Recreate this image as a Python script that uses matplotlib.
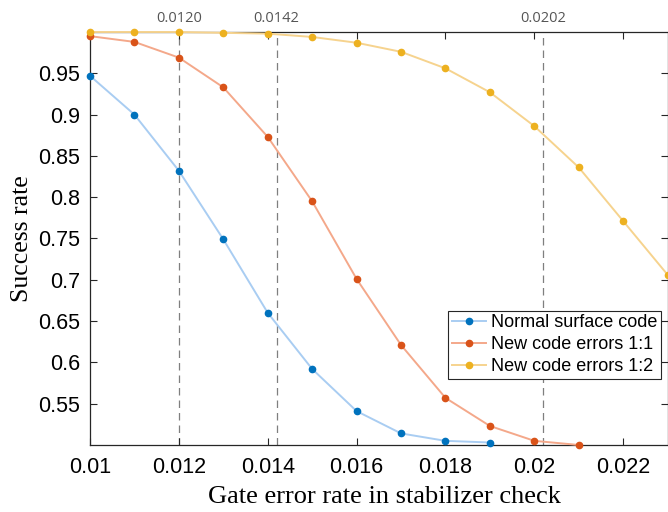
import matplotlib.pyplot as plt
from matplotlib.transforms import blended_transform_factory

# 门错误率（横轴）
x_normal = [0.010, 0.011, 0.012, 0.013, 0.014, 0.015, 0.016, 0.017, 0.018, 0.019]
x_new11 = [0.010, 0.011, 0.012, 0.013, 0.014, 0.015, 0.016, 0.017, 0.018, 0.019, 0.020, 0.021]
x_new12 = [0.010, 0.011, 0.012, 0.013, 0.014, 0.015, 0.016, 0.017, 0.018, 0.019, 0.020, 0.021, 0.022, 0.023]

# 成功率
y_normal = [0.947, 0.900, 0.832, 0.749, 0.660, 0.592, 0.541, 0.514, 0.505, 0.503]
y_new11 = [0.995, 0.988, 0.969, 0.933, 0.873, 0.795, 0.701, 0.621, 0.557, 0.523, 0.505, 0.500]
y_new12 = [1.000, 1.000, 1.000, 0.999, 0.998, 0.994, 0.987, 0.976, 0.956, 0.927, 0.886, 0.836, 0.771, 0.706]

labels = ['Normal surface code', 'New code errors 1:1', 'New code errors 1:2']
dot_colors = ['#0072BD', '#D95319', '#EDB120']
line_colors = ['#A9CDF2', '#F4A88A', '#F6D38E']

# 阈值竖线
thresholds = [0.0120, 0.0142, 0.0202]
threshold_text = ['0.0120', '0.0142', '0.0202']

xticks = [0.010, 0.012, 0.014, 0.016, 0.018, 0.020, 0.022]
xtick_text = ['0.01', '0.012', '0.014', '0.016', '0.018', '0.02', '0.022']
yticks = [0.55, 0.60, 0.65, 0.70, 0.75, 0.80, 0.85, 0.90, 0.95]
ytick_text = ['0.55', '0.6', '0.65', '0.7', '0.75', '0.8', '0.85', '0.9', '0.95']

plt.rcParams['font.family'] = ['Liberation Sans', 'DejaVu Sans']

fig = plt.figure(figsize=(6.68, 5.12), dpi=100)
ax = fig.add_axes([0.1347, 0.1309, 0.8648, 0.8066])

for xv in thresholds:
    ax.axvline(xv, color='#7f7f7f', lw=0.9, ls=(0, (6, 4)), zorder=1)

for xs, ys, lab, dc, lc in zip([x_normal, x_new11, x_new12],
                               [y_normal, y_new11, y_new12],
                               labels, dot_colors, line_colors):
    ax.plot(xs, ys, color=lc, lw=1.4, marker='o', ms=4.5,
            markerfacecolor=dc, markeredgecolor=dc, label=lab, zorder=3, clip_on=False)

ax.set_xlim(0.010, 0.023)
ax.set_ylim(0.5, 1.0)
ax.set_xticks(xticks)
ax.set_xticklabels(xtick_text)
ax.set_yticks(yticks)
ax.set_yticklabels(ytick_text)
ax.tick_params(direction='in', top=True, right=True, labelsize=15.5,
               length=5, width=0.8, color='#262626')
ax.tick_params(axis='x', pad=9)
ax.tick_params(axis='y', pad=7)

for sp in ax.spines.values():
    sp.set_color('#262626')
    sp.set_linewidth(0.9)

# 顶部阈值标注
trans = blended_transform_factory(ax.transData, ax.transAxes)
for xv, t in zip(thresholds, threshold_text):
    ax.text(xv, 1.015, t, transform=trans, ha='center', va='bottom',
            fontsize=10.5, color='#555555', family=['Open Sans', 'DejaVu Sans'])

ax.set_xlabel('Gate error rate in stabilizer check', family='Liberation Serif',
              fontsize=19, labelpad=4)
ax.xaxis.set_label_coords(0.51, -0.10)
ax.set_ylabel('Success rate', family='Liberation Serif', fontsize=18.5, labelpad=4)

leg = ax.legend(loc='lower right', bbox_to_anchor=(0.988, 0.16), fontsize=13,
                fancybox=False, framealpha=1, edgecolor='#262626',
                borderpad=0.2, labelspacing=0.28, handlelength=1.9,
                handletextpad=0.25, borderaxespad=0)
leg.get_frame().set_linewidth(0.8)

fig.savefig('out.png', dpi=100)
